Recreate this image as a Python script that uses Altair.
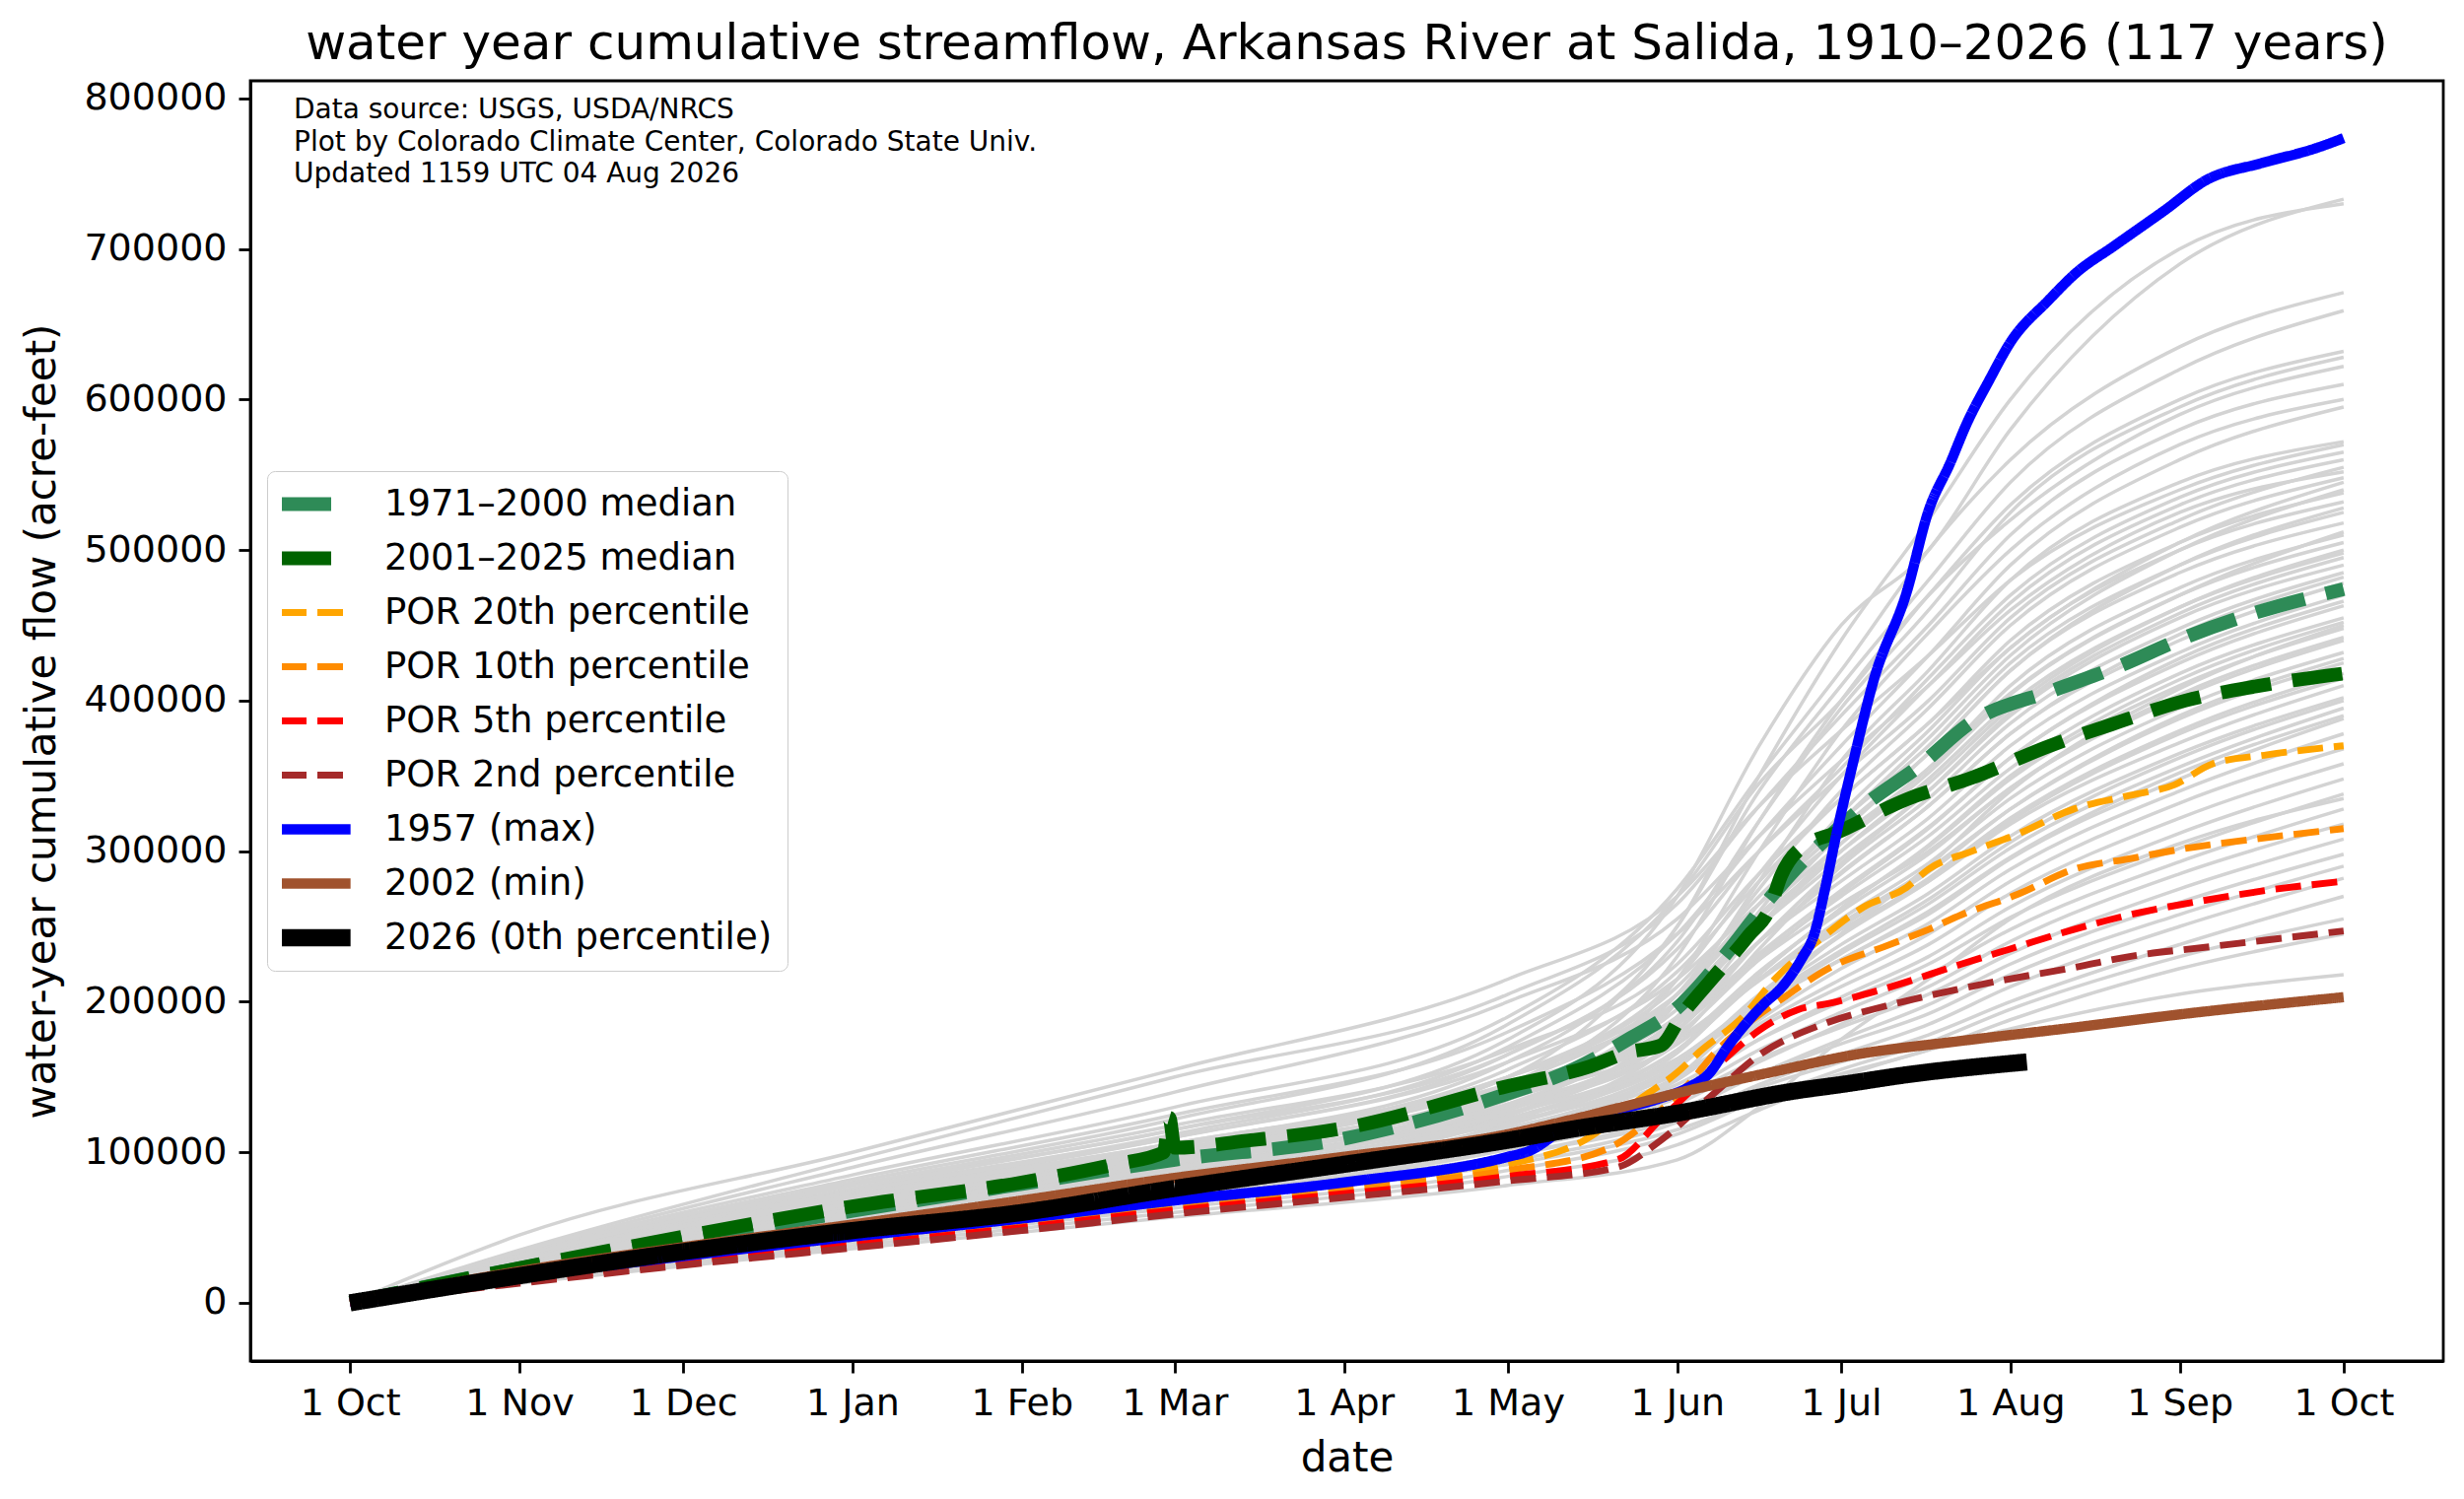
import json
import pandas as pd
import altair as alt

# ---------------- text ----------------
title_text = "water year cumulative streamflow, Arkansas River at Salida, 1910–2026 (117 years)"
note_lines = [
    "Data source: USGS, USDA/NRCS",
    "Plot by Colorado Climate Center, Colorado State Univ.",
    "Updated 1159 UTC 04 Aug 2026",
]
x_title = "date"
y_title = "water-year cumulative flow (acre-feet)"

# x = day of water year (0 = 1 Oct)
tick_days = [0, 31, 61, 92, 123, 151, 182, 212, 243, 273, 304, 335, 365]
tick_labels = ["1 Oct", "1 Nov", "1 Dec", "1 Jan", "1 Feb", "1 Mar", "1 Apr",
               "1 May", "1 Jun", "1 Jul", "1 Aug", "1 Sep", "1 Oct"]
y_ticks = [0, 100000, 200000, 300000, 400000, 500000, 600000, 700000, 800000]

# ---------------- highlighted series ----------------
med1971_days = [0, 31, 61, 92, 123, 151, 182, 212, 224, 234.5, 242.6, 252, 260, 267, 272, 278, 287, 297, 312, 324, 336, 349, 365]
med1971_vals = [0, 23000, 42000, 61000, 79000, 95000, 109000, 139000, 155000, 176000, 194600, 232000, 269000, 297000, 313500, 332500, 355700, 386000, 407000, 423000, 442000, 458500, 474000]

med2001_days = [0, 31, 61, 92, 123, 140, 149, 150, 151, 165, 182, 212, 227, 234, 240, 244, 249, 256, 260, 262, 265, 273, 285, 297, 311, 324, 336, 349, 365]
med2001_vals = [0, 23000, 44000, 64000, 80000, 92000, 100000, 123000, 103000, 108000, 116000, 144000, 157000, 166500, 171000, 192000, 213600, 243600, 262600, 283500, 300000, 313500, 334400, 348800, 369700, 386000, 400000, 409500, 418000]

p20_days = [0, 31, 61, 92, 123, 151, 182, 212, 226, 236, 243, 247, 255, 261, 269, 277, 285, 289, 297, 305.5, 315.6, 325.8, 334, 341, 351, 365]
p20_vals = [0, 17000, 30000, 43000, 55000, 67000, 79000, 92000, 108000, 135000, 153000, 166500, 190000, 215600, 241000, 262600, 276000, 288000, 300000, 311600, 328000, 337000, 344000, 358000, 364000, 370000]

p10_days = [0, 31, 61, 92, 123, 151, 182, 212, 230, 240, 245, 250, 255, 263, 271, 281, 289, 295, 305.5, 315.6, 325.8, 336, 351, 365]
p10_vals = [0, 15500, 28500, 41000, 52500, 64000, 76000, 88000, 102000, 128000, 145000, 166500, 183000, 204000, 222700, 236700, 248000, 257700, 271600, 288000, 295000, 301800, 309000, 315000]

p05_days = [0, 31, 61, 92, 123, 151, 182, 212, 232, 240, 247, 251, 258, 265, 271, 281, 295, 303.5, 315.6, 325.8, 339, 351, 365]
p05_vals = [0, 14000, 27000, 38500, 50000, 61500, 72500, 84000, 95000, 122000, 146000, 159600, 181000, 194600, 199000, 208700, 225000, 234500, 248000, 257700, 267000, 274000, 280000]

p02_days = [0, 31, 61, 92, 123, 151, 182, 212, 232, 240, 250, 258, 270, 281, 289, 301.6, 315.6, 325.8, 341, 351, 365]
p02_vals = [0, 13000, 25000, 36500, 48000, 59000, 70000, 81000, 90000, 108000, 140000, 164600, 185500, 197000, 204000, 213600, 222700, 230000, 236700, 241000, 247000]

y1957_days = [0, 31, 61, 92, 123, 151, 182, 212, 216, 222, 226, 232, 240, 245, 249, 252, 255, 259, 262, 266, 268, 270, 272, 275, 279, 285, 289, 293, 296, 300, 304, 311, 316, 323, 332, 340, 350, 360, 365]
y1957_vals = [0, 17000, 31000, 44000, 56000, 68000, 80000, 97000, 101000, 115000, 122000, 128000, 136000, 143000, 153000, 169000, 183000, 199000, 209000, 230000, 244000, 274000, 309000, 356000, 414000, 472000, 526000, 558000, 584000, 612000, 638000, 666000, 684000, 702000, 725000, 746000, 757000, 767000, 773600]

y2002_days = [0, 31, 61, 92, 123, 151, 182, 212, 224, 245, 260, 275, 295, 316, 336, 365]
y2002_vals = [0, 21000, 37000, 52000, 68000, 83000, 97000, 112000, 122000, 141000, 153000, 164500, 174000, 183000, 192000, 203000]

y2026_days = [0, 31, 61, 92, 123, 151, 182, 212, 224, 243, 265, 273, 285, 307]
y2026_vals = [0, 18000, 34000, 48000, 60000, 76000, 92000, 108000, 115500, 126000, 141000, 145000, 151500, 160000]

series_names = ["1971–2000 median", "2001–2025 median", "POR 20th percentile",
                "POR 10th percentile", "POR 5th percentile", "POR 2nd percentile",
                "1957 (max)", "2002 (min)", "2026 (0th percentile)"]
series_days = [med1971_days, med2001_days, p20_days, p10_days, p05_days, p02_days,
               y1957_days, y2002_days, y2026_days]
series_vals = [med1971_vals, med2001_vals, p20_vals, p10_vals, p05_vals, p02_vals,
               y1957_vals, y2002_vals, y2026_vals]

# styles
series_colors = ["#2e8b57", "#006400", "#ffa500", "#ff8c00", "#ff0000", "#a52a2a",
                 "#0000ff", "#a0522d", "#000000"]
series_dash = [[51, 22], [51, 22], [26, 11], [26, 11], [26, 11], [26, 11],
               [1, 0], [1, 0], [1, 0]]
series_width = [13.9, 13.9, 6.9, 6.9, 6.9, 6.9, 10.4, 10.4, 17.4]

# ---------------- individual years (gray), thousand acre-feet ----------------
gray_days = [0, 31, 92, 151, 212, 243, 258, 273, 289, 304, 335, 365]
gray_kaf = [
    [0, 30, 78, 115, 175, 270, 370, 450, 500, 580, 690, 733],
    [0, 28, 70, 105, 160, 250, 350, 440, 520, 600, 700, 730],
    [0, 33, 85, 130, 190, 275, 350, 420, 500, 560, 635, 671],
    [0, 26, 68, 100, 150, 250, 340, 410, 480, 545, 620, 659],
    [0, 31, 80, 122, 185, 270, 345, 400, 470, 530, 600, 632],
    [0, 27, 72, 110, 165, 240, 320, 395, 460, 525, 595, 628],
    [0, 25, 62, 95, 145, 230, 320, 400, 470, 520, 590, 622],
    [0, 35, 95, 150, 205, 265, 330, 390, 450, 510, 580, 610],
    [0, 24, 60, 92, 140, 215, 300, 380, 445, 500, 570, 600],
    [0, 29, 75, 112, 170, 245, 310, 370, 430, 490, 560, 595],
    [0, 22, 58, 88, 130, 200, 280, 360, 420, 480, 545, 572],
    [0, 30, 76, 115, 165, 235, 300, 355, 415, 470, 535, 565],
    [0, 26, 66, 100, 150, 215, 285, 350, 410, 465, 530, 560],
    [0, 32, 82, 125, 180, 245, 300, 350, 400, 455, 520, 555],
    [0, 23, 60, 90, 135, 205, 275, 340, 395, 450, 515, 548],
    [0, 28, 70, 105, 155, 220, 280, 335, 385, 440, 505, 538],
    [0, 21, 55, 84, 125, 190, 260, 325, 380, 435, 500, 532],
    [0, 27, 68, 102, 150, 210, 270, 320, 370, 425, 490, 525],
    [0, 25, 64, 98, 145, 205, 265, 315, 365, 420, 485, 518],
    [0, 30, 74, 110, 160, 215, 265, 310, 355, 410, 475, 510],
    [0, 22, 57, 86, 128, 185, 250, 305, 355, 405, 470, 505],
    [0, 26, 65, 97, 142, 195, 250, 300, 348, 398, 462, 498],
    [0, 29, 72, 106, 150, 200, 250, 295, 340, 390, 455, 490],
    [0, 20, 52, 80, 120, 175, 235, 290, 335, 385, 448, 485],
    [0, 24, 61, 92, 135, 185, 240, 285, 330, 378, 440, 478],
    [0, 27, 67, 100, 145, 190, 240, 280, 322, 370, 432, 470],
    [0, 23, 58, 88, 130, 178, 228, 272, 315, 362, 425, 463],
    [0, 25, 63, 95, 138, 182, 230, 270, 310, 355, 418, 455],
    [0, 21, 54, 82, 122, 168, 218, 262, 303, 348, 410, 448],
    [0, 28, 69, 102, 145, 185, 228, 265, 300, 342, 402, 440],
    [0, 22, 56, 85, 125, 168, 215, 255, 292, 335, 395, 432],
    [0, 24, 60, 90, 130, 172, 215, 252, 288, 328, 388, 425],
    [0, 19, 50, 77, 115, 158, 205, 245, 282, 322, 380, 418],
    [0, 26, 64, 96, 136, 175, 215, 248, 280, 318, 372, 410],
    [0, 22, 55, 84, 122, 162, 202, 238, 272, 310, 365, 402],
    [0, 20, 52, 80, 118, 158, 198, 232, 265, 302, 356, 395],
    [0, 24, 59, 89, 126, 162, 198, 228, 258, 295, 348, 388],
    [0, 18, 48, 74, 110, 148, 188, 222, 252, 288, 340, 378],
    [0, 21, 53, 81, 116, 150, 185, 215, 245, 280, 332, 368],
    [0, 23, 57, 86, 120, 152, 183, 210, 238, 272, 322, 358],
    [0, 19, 49, 76, 110, 142, 175, 203, 230, 263, 312, 348],
    [0, 22, 54, 82, 114, 145, 175, 200, 225, 256, 302, 338],
    [0, 20, 50, 77, 108, 138, 168, 193, 218, 248, 293, 328],
    [0, 18, 46, 72, 102, 132, 160, 185, 210, 240, 285, 318],
    [0, 21, 52, 79, 108, 136, 162, 183, 205, 232, 275, 308],
    [0, 17, 44, 69, 98, 126, 152, 175, 198, 225, 266, 298],
    [0, 19, 48, 74, 102, 128, 152, 172, 192, 218, 258, 290],
    [0, 16, 42, 66, 94, 120, 145, 165, 185, 210, 250, 282],
    [0, 18, 46, 71, 98, 122, 143, 160, 178, 200, 238, 270],
    [0, 15, 40, 63, 88, 112, 135, 155, 173, 195, 230, 255],
    [0, 17, 44, 68, 92, 115, 135, 152, 168, 188, 222, 245],
    [0, 14, 38, 60, 84, 105, 128, 150, 168, 182, 205, 218],
    [0, 45, 100, 155, 215, 270, 330, 380, 430, 480, 540, 570],
    [0, 34, 90, 140, 200, 255, 310, 360, 410, 460, 525, 552],
    [0, 13, 36, 57, 78, 95, 130, 175, 215, 255, 305, 335],
    [0, 25, 64, 97, 140, 200, 265, 320, 375, 430, 500, 540],
    [0, 23, 59, 90, 132, 190, 255, 312, 365, 420, 490, 528],
    [0, 27, 69, 104, 150, 205, 258, 305, 352, 404, 470, 512],
    [0, 21, 54, 83, 124, 180, 240, 292, 340, 392, 458, 495],
    [0, 24, 62, 94, 136, 188, 240, 286, 330, 378, 444, 482],
    [0, 26, 66, 99, 140, 185, 232, 274, 316, 362, 428, 466],
    [0, 20, 51, 79, 118, 166, 218, 262, 304, 350, 414, 452],
    [0, 23, 58, 88, 128, 172, 220, 260, 298, 342, 404, 442],
    [0, 25, 62, 93, 132, 172, 214, 250, 286, 328, 390, 428],
    [0, 19, 49, 76, 114, 156, 204, 244, 280, 320, 378, 415],
    [0, 22, 56, 85, 122, 160, 200, 234, 268, 306, 362, 400],
    [0, 24, 60, 90, 126, 162, 198, 228, 260, 296, 352, 390],
    [0, 28, 71, 106, 150, 200, 255, 300, 345, 395, 462, 500],
    [0, 31, 78, 118, 168, 225, 285, 335, 385, 435, 505, 545],
    [0, 18, 47, 73, 108, 150, 200, 245, 290, 340, 408, 450],
]

# ---------------- tables ----------------
gray_rows = []
for i, vals in enumerate(gray_kaf):
    for d, v in zip(gray_days, vals):
        gray_rows.append({"day": d, "flow": v * 1000, "year": f"y{i:03d}"})
gray_df = pd.DataFrame(gray_rows)

label_expr = f"{json.dumps(tick_labels)}[indexof({json.dumps(tick_days)}, datum.value)]"

x_enc = alt.X("day:Q",
              scale=alt.Scale(domain=[-18.25, 383.25], nice=False, zero=False),
              axis=alt.Axis(values=tick_days, labelExpr=label_expr, title=x_title,
                            titlePadding=16))
y_enc = alt.Y("flow:Q",
              scale=alt.Scale(domain=[-38650, 811650], nice=False, zero=False),
              axis=alt.Axis(values=y_ticks, format="d", title=y_title, titlePadding=20))

gray_layer = alt.Chart(gray_df).mark_line(
    color="#d3d3d3", strokeWidth=3.5, interpolate="monotone", strokeJoin="round"
).encode(x=x_enc, y=y_enc, detail="year:N")

color_scale = alt.Scale(domain=series_names, range=series_colors)
dash_scale = alt.Scale(domain=series_names, range=series_dash)
width_scale = alt.Scale(type="ordinal", domain=series_names, range=series_width)

layers = [gray_layer]
for name, days, vals in zip(series_names, series_days, series_vals):
    df = pd.DataFrame({"day": days, "flow": vals, "series": name})
    layers.append(
        alt.Chart(df).mark_line(interpolate="monotone", strokeJoin="round").encode(
            x=x_enc, y=y_enc,
            color=alt.Color("series:N", scale=color_scale, title=None),
            strokeDash=alt.StrokeDash("series:N", scale=dash_scale, title=None),
            strokeWidth=alt.StrokeWidth("series:N", scale=width_scale, title=None),
        )
    )

note_layer = alt.Chart(pd.DataFrame({"k": [0]})).mark_text(
    text=note_lines, align="left", baseline="middle", font="DejaVu Sans",
    fontSize=28, lineHeight=32.5, color="black"
).encode(x=alt.value(44), y=alt.value(30))
layers.append(note_layer)

chart = alt.layer(*layers).properties(
    width=2225, height=1299,
    autosize=alt.AutoSizeParams(type="none"),
    padding={"left": 246, "top": 74, "right": 13, "bottom": 132},
    title=alt.TitleParams(text=title_text, font="DejaVu Sans", fontSize=50,
                          fontWeight="normal", color="black", anchor="middle",
                          frame="group", offset=11),
    background="white",
).configure_axis(
    labelFont="DejaVu Sans", labelFontSize=38, labelColor="black",
    titleFont="DejaVu Sans", titleFontSize=42, titleFontWeight="normal",
    titleColor="black", tickColor="black", tickWidth=2.8, tickSize=12,
    labelPadding=12, domainColor="black", domainWidth=2.8, grid=False,
).configure_view(
    stroke="black", strokeWidth=2.8,
).configure_legend(
    orient="none", legendX=17, legendY=396, padding=15, rowPadding=17,
    clipHeight=37,
    labelFont="DejaVu Sans", labelFontSize=37, labelColor="black", labelOffset=67,
    labelLimit=0, symbolType="M-2,0L5.25,0", symbolSize=380, fillColor="white",
    strokeColor="#cccccc", cornerRadius=8,
)

chart.save("out.html", embed_options={"renderer": "svg", "actions": False})
